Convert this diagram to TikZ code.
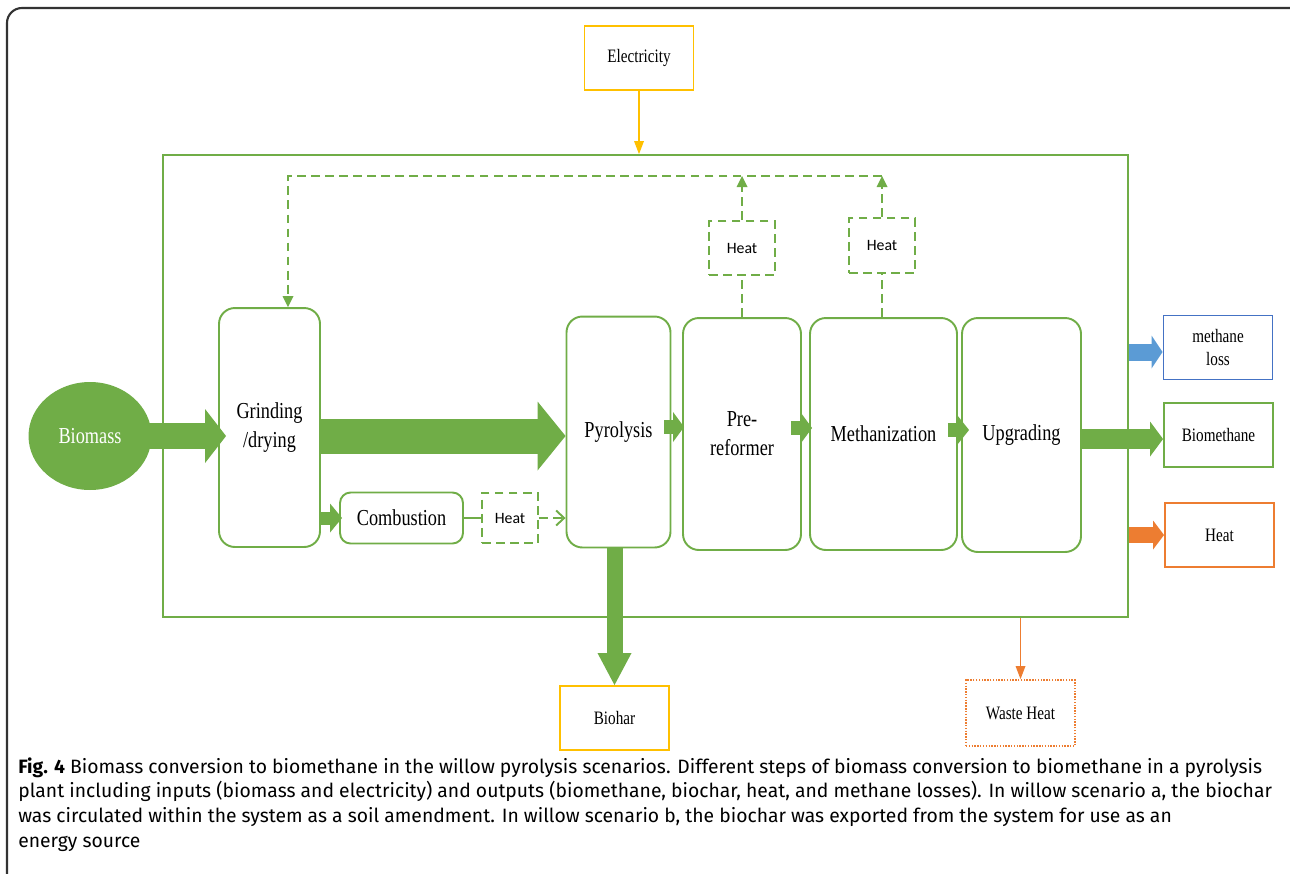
\documentclass[tikz,border=0pt]{standalone}
\usepackage{fontspec}
\setmainfont{Liberation Serif}
\newfontfamily\boxfont[FakeStretch=0.8]{Liberation Serif}
\newfontfamily\heatfont{Carlito}
\newfontfamily\capfont{Fira Sans}
\usepackage{xcolor}
\definecolor{cGreen}{HTML}{70AD47}
\definecolor{cBlue}{HTML}{5B9BD5}
\definecolor{cBlueLine}{HTML}{4472C4}
\definecolor{cOrange}{HTML}{ED7D31}
\definecolor{cYellow}{HTML}{FFC000}
\usepackage{tikz}
\usetikzlibrary{positioning, arrows.meta, shapes.geometric}

\begin{document}
\begin{tikzpicture}[
    x=0.02cm, y=-0.02cm,
    procbox/.style={draw=cGreen, line width=1.1pt, rounded corners=9pt, align=center,
                    inner sep=0pt, font=\boxfont\fontsize{13}{16.5}\selectfont},
    outbox/.style={draw=#1, line width=1.1pt, align=center, inner sep=0pt,
                   minimum width=2.18cm, minimum height=1.28cm,
                   font=\boxfont\fontsize{10.8}{13.6}\selectfont},
    heatbox/.style={draw=cGreen, line width=1.1pt, dash pattern=on 5pt off 3pt,
                    inner sep=0pt, font=\heatfont\fontsize{9}{10}\selectfont},
    dsh/.style={draw=cGreen, line width=1.1pt, dash pattern=on 5pt off 3pt},
    blk/.style n args={4}{draw=#1, line width=#2,
                          -{Triangle[length=#4, width=#3, line width=0pt]}},
    thinarr/.style={draw=#1, line width=0.6pt,
                    -{Triangle[length=0.26cm, width=0.2cm, line width=0pt]}}
]
\clip (0,0) rectangle (1290,873);
\draw[line width=1.2pt, black!80, rounded corners=0.3cm] (7,8) rectangle (1330,910);

% plant boundary and inputs
\node[draw=cGreen, line width=1.1pt, minimum width=19.3cm, minimum height=9.24cm, inner sep=0pt] (plant) at (645.5,386) {};
\node[outbox=cYellow] (elec) at (639,58) {Electricity};
\node[ellipse, fill=cGreen, minimum width=2.46cm, minimum height=2.16cm, inner sep=0pt,
      text=white, font=\boxfont\fontsize{13}{14}\selectfont] (bio) at (90,436) {Biomass};

% process steps
\node[procbox, minimum width=2.02cm, minimum height=4.78cm] (grind) at (269.5,427.5) {Grinding\\/drying};
\node[procbox, rounded corners=6pt, minimum width=2.46cm, minimum height=1.02cm] (comb) at (401.5,518) {Combustion};
\node[heatbox, minimum width=1.12cm, minimum height=1.0cm] (hc) at (510,518) {Heat};
\node[procbox, minimum width=2.08cm, minimum height=4.62cm] (pyro) at (618.5,432) {Pyrolysis};
\node[procbox, minimum width=2.36cm, minimum height=4.64cm] (pref) at (742,434) {Pre-\\reformer};
\node[procbox, minimum width=2.94cm, minimum height=4.64cm] (meth) at (883.5,434) {Methanization};
\node[procbox, minimum width=2.38cm, minimum height=4.68cm] (upg) at (1021.5,435) {Upgrading};
\node[heatbox, minimum width=1.32cm, minimum height=1.08cm] (h1) at (742,248) {Heat};
\node[heatbox, minimum width=1.32cm, minimum height=1.1cm] (h2) at (882,245.5) {Heat};

% outputs
\node[outbox=cBlueLine] (loss) at (1218,347.5) {methane\\loss};
\node[outbox=cGreen] (biometh) at (1218.5,435) {Biomethane};
\node[outbox=cOrange] (heatout) at (1219.5,535) {Heat};
\node[outbox=cYellow] (biohar) at (614.5,718) {Biohar};
\node[outbox=cOrange, dash pattern=on 0.8pt off 0.8pt, minimum height=1.32cm] (waste) at (1020.5,713) {Waste Heat};

% main flow
\draw[blk={cGreen}{0.52cm}{1.08cm}{0.42cm}] ([xshift=-0.1cm]bio.east) -- ([xshift=0.16cm]grind.west |- bio);
\draw[blk={cGreen}{0.70cm}{1.38cm}{0.56cm}] (grind.east |- bio) -- (pyro.west |- bio);
\draw[blk={cGreen}{0.26cm}{0.58cm}{0.24cm}] (grind.east |- comb) -- ([xshift=0.06cm]comb.west);
\draw[blk={cGreen}{0.28cm}{0.60cm}{0.22cm}] ([xshift=-0.14cm]pyro.east |- 0,427) -- ([xshift=0.04cm]pref.west |- 0,427);
\draw[blk={cGreen}{0.28cm}{0.60cm}{0.22cm}] ([xshift=-0.22cm]pref.east |- 0,428) -- ([xshift=0.06cm]meth.west |- 0,428);
\draw[blk={cGreen}{0.28cm}{0.60cm}{0.24cm}] ([xshift=-0.2cm]meth.east |- 0,430) -- ([xshift=0.16cm]upg.west |- 0,430);
\draw[blk={cGreen}{0.40cm}{0.70cm}{0.26cm}] (upg.east |- 0,439) -- (biometh.west |- 0,439);
\draw[blk={cBlue}{0.34cm}{0.66cm}{0.22cm}] (plant.east |- 0,352) -- (loss.west |- 0,352);
\draw[blk={cOrange}{0.32cm}{0.58cm}{0.22cm}] (plant.east |- heatout) -- (heatout.west);
\draw[blk={cGreen}{0.32cm}{0.68cm}{0.64cm}] (pyro.south -| biohar) -- (biohar.north);

% combustion heat
\draw[draw=cGreen, line width=1.1pt] (comb.east) -- (hc.west);
\draw[dsh, -{Straight Barb[length=0.16cm, width=0.3cm]}] (hc.east) -- (hc.east -| pyro.west);

% heat recovery loop
\coordinate (loopR) at (882,176);
\coordinate (drop) at ([xshift=0.37cm]grind.north);
\draw[dsh] (pref.north) -- (h1.south);
\draw[dsh] (h2.south |- meth.north) -- (h2.south);
\draw[dsh, -{Triangle[length=0.22cm, width=0.22cm, line width=0pt]}] (h1.north) -- (h1.north |- loopR);
\draw[dsh, -{Triangle[length=0.22cm, width=0.22cm, line width=0pt]}] (h2.north) -- (loopR);
\draw[dsh, -{Triangle[length=0.22cm, width=0.22cm, line width=0pt]}] (loopR) -- (loopR -| drop) -- (drop);

% electricity and waste heat
\draw[thinarr=cYellow] (elec.south) -- (elec.south |- plant.north);
\draw[thinarr=cOrange] (waste.north |- plant.south) -- (waste.north);

% caption
\node[anchor=north west, align=left, inner sep=0pt, font=\capfont\fontsize{11}{14.2}\selectfont] (cap) at (18,757)
  {\textbf{Fig. 4} Biomass conversion to biomethane in the willow pyrolysis scenarios. Different steps of biomass conversion to biomethane in a pyrolysis\\
   plant including inputs (biomass and electricity) and outputs (biomethane, biochar, heat, and methane losses). In willow scenario a, the biochar\\
   was circulated within the system as a soil amendment. In willow scenario b, the biochar was exported from the system for use as an\\
   energy source};
\end{tikzpicture}
\end{document}
